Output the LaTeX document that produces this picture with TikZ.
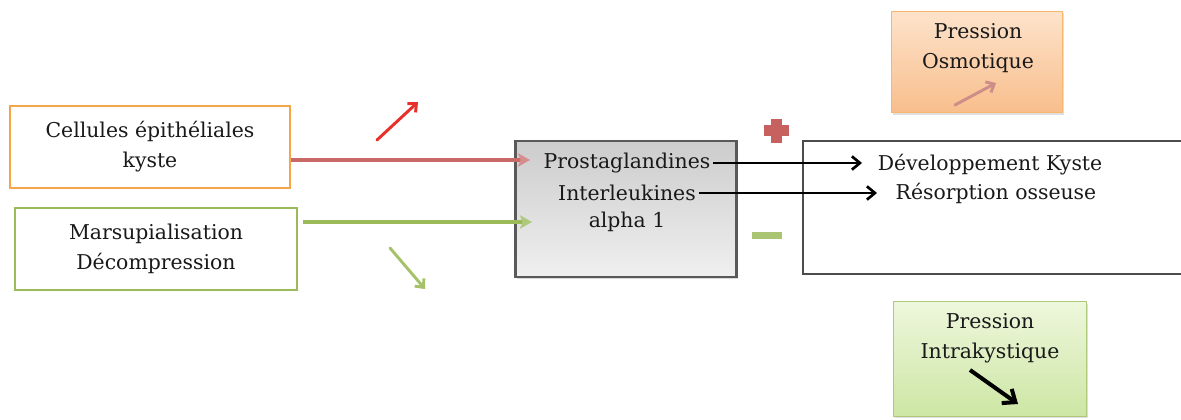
\documentclass[tikz,border=0pt]{standalone}
\usepackage{fontspec}
\setmainfont{DejaVu Serif}
\usetikzlibrary{arrows.meta,shadows}
\definecolor{boxorange}{HTML}{F5A54A}
\definecolor{boxgreen}{HTML}{9BBB59}
\definecolor{linered}{HTML}{C0504D}
\definecolor{brightred}{HTML}{E8302A}
\definecolor{peachtop}{HTML}{FDE3CB}
\definecolor{peachbot}{HTML}{F8BE8C}
\definecolor{limetop}{HTML}{EEF7DC}
\definecolor{limebot}{HTML}{CDE6A4}
\definecolor{arrowbrown}{HTML}{C0706A}
\tikzset{
  txt/.style={font=\fontsize{15.3}{22.5}\selectfont, inner sep=2pt, text=black!90},
  sbox/.style={draw, line width=1.6pt, fill=white, inner sep=0pt},
  pbox/.style={draw, line width=1pt, inner sep=0pt, drop shadow={shadow xshift=1pt, shadow yshift=-1.5pt, opacity=0.25}},
  conn/.style={line width=2.4pt},
  blk/.style={line width=2.2pt, -{Straight Barb[length=6pt,width=10pt,line width=2pt]}},
  trend/.style={line width=2.2pt, line cap=round, -{Straight Barb[length=5pt,width=9pt,line width=2.2pt]}},
}
\begin{document}
\begin{tikzpicture}[x=0.75pt,y=-0.75pt]
\useasboundingbox (0,0) rectangle (1181,420);
% left boxes
\node[sbox, draw=boxorange, minimum width=210pt, minimum height=62pt] (cell) at (150,147) {};
\node[txt, align=center] at (cell.center) {Cellules épithéliales\\kyste};
\node[sbox, draw=boxgreen, minimum width=211pt, minimum height=61pt] (mars) at (156,249) {};
\node[txt, align=center] at (mars.center) {Marsupialisation\\Décompression};
% center box
\node[draw=black!65, line width=1.8pt, top color=gray!40, bottom color=gray!12, minimum width=166pt, minimum height=102pt, inner sep=0pt, drop shadow={shadow xshift=1pt, shadow yshift=-1.5pt, opacity=0.3}] (mid) at (626,209) {};
\node[txt] (prost) at (627,163) {Prostaglandines};
\node[txt] (inter) at (627,193) {Interleukines};
\node[txt] (alpha) at (627,222) {alpha 1};
% right box
\node[draw=black!70, line width=1.6pt, minimum width=291pt, minimum height=100pt, inner sep=0pt, anchor=north west] (dev) at (802,140) {};
\node[txt] (devk) at (990,165) {Développement Kyste};
\node[txt] (reso) at (996,193) {Résorption osseuse};
% pression boxes
\node[pbox, draw=boxorange!80, top color=peachtop, bottom color=peachbot, minimum width=128pt, minimum height=76pt] (osmo) at (977,62) {};
\node[txt, align=center] at (978,48) {Pression\\Osmotique};
\node[pbox, draw=boxgreen!80, top color=limetop, bottom color=limebot, minimum width=145pt, minimum height=86pt] (intra) at (990,359) {};
\node[txt, align=center] at (990,338) {Pression\\Intrakystique};
% coordinates
\coordinate (redin) at (530,160);
\coordinate (greenstart) at (303,222);
\coordinate (greenin) at (532,222);
\coordinate (ra1) at (377,140);
\coordinate (ra2) at (418,102);
\coordinate (ga1) at (390,248);
\coordinate (ga2) at (425,289);
\coordinate (oa1) at (955,105);
\coordinate (oa2) at (996,83);
\coordinate (ia1) at (970,370);
\coordinate (ia2) at (1018,404);
\coordinate (dk) at (862,163);
\coordinate (rs) at (877,193);
% connectors
\draw[conn, draw=linered!85, -{Stealth[length=9pt,width=10pt,inset=2pt,color=linered!65]}] (cell.east |- redin) -- (redin);
\draw[conn, draw=boxgreen, -{Stealth[length=9pt,width=10pt,inset=2pt,color=boxgreen!80]}] (greenstart) -- (greenin);
\draw[blk] (prost.east |- dk) -- (dk);
\draw[blk] (inter.east |- rs) -- (rs);
% trend arrows
\draw[trend, brightred] (ra1) -- (ra2);
\draw[trend, boxgreen!90] (ga1) -- (ga2);
\draw[trend, arrowbrown!80] (oa1) -- (oa2);
\draw[line width=3pt, black, -{Straight Barb[length=8pt,width=13pt,line width=3pt]}] (ia1) -- (ia2);
% plus and minus
\fill[linered!90] (771,119) rectangle (782,143);
\fill[linered!90] (764,125.5) rectangle (789,136.5);
\fill[boxgreen!85] (752,232.5) rectangle (782,239.5);
\end{tikzpicture}
\end{document}
